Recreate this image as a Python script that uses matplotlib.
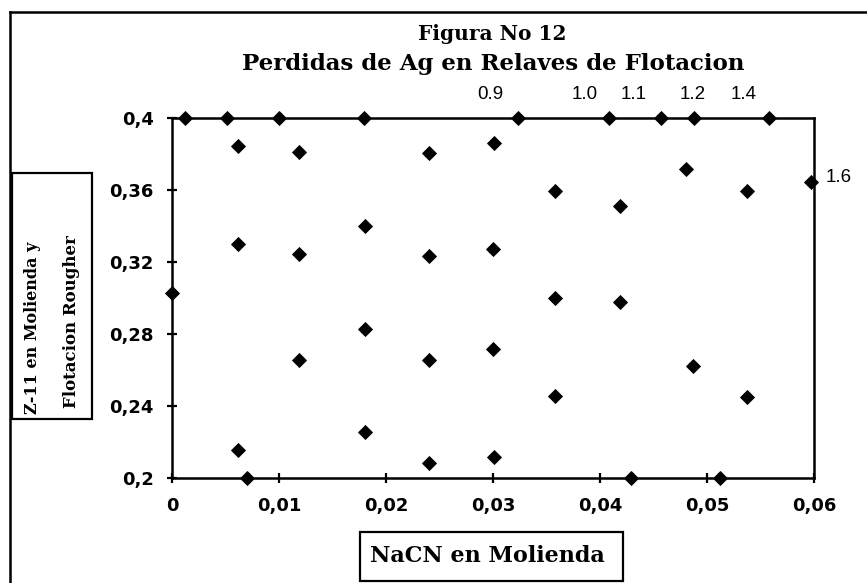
import matplotlib
matplotlib.use("Agg")
import matplotlib.pyplot as plt
from matplotlib.lines import Line2D
from matplotlib.patches import Rectangle
from matplotlib.ticker import FuncFormatter

# NaCN en molienda (x) vs Z-11 (y)
nacn = [0.0012, 0.0051, 0.0100, 0.0179, 0.0323, 0.0408, 0.0457, 0.0488, 0.0558,
        0.0061, 0.0061, 0.0000, 0.0061, 0.0070,
        0.0118, 0.0118, 0.0118,
        0.0180, 0.0180, 0.0180,
        0.0240, 0.0240, 0.0240, 0.0240,
        0.0301, 0.0300, 0.0300, 0.0301,
        0.0358, 0.0358, 0.0358,
        0.0419, 0.0419, 0.0429,
        0.0480, 0.0487, 0.0512,
        0.0537, 0.0537, 0.0597]
z11 = [0.400, 0.400, 0.400, 0.400, 0.400, 0.400, 0.400, 0.400, 0.400,
       0.3848, 0.3301, 0.3026, 0.2154, 0.2000,
       0.3814, 0.3243, 0.2655,
       0.3402, 0.2829, 0.2256,
       0.3805, 0.3234, 0.2655, 0.2083,
       0.3861, 0.3274, 0.2715, 0.2117,
       0.3595, 0.3002, 0.2452,
       0.3514, 0.2979, 0.2000,
       0.3718, 0.2622, 0.2000,
       0.3595, 0.2451, 0.3647]

# contour labels written near the top border (and one at the right)
level_labels = ["0.9", "1.0", "1.1", "1.2", "1.4"]
level_x = [0.0297, 0.0386, 0.0431, 0.0487, 0.0534]
label_16 = "1.6"

x_ticks = [0, 0.01, 0.02, 0.03, 0.04, 0.05, 0.06]
y_ticks = [0.2, 0.24, 0.28, 0.32, 0.36, 0.4]


def comma(v, pos):
    s = "{:g}".format(round(v, 4))
    return s.replace(".", ",")


W, H = 867, 583
fig = plt.figure(figsize=(W / 100, H / 100), dpi=100)
ax = fig.add_axes([172.3 / W, 1 - 477.7 / H, (814 - 172.3) / W, 359.4 / H])

ax.plot(nacn, z11, linestyle="none", marker="D", markersize=7.5,
        color="black", markeredgewidth=0.6, clip_on=False, zorder=5)

ax.set_xlim(0, 0.06)
ax.set_ylim(0.2, 0.4)
ax.set_xticks(x_ticks)
ax.set_yticks(y_ticks)
ax.xaxis.set_major_formatter(FuncFormatter(comma))
ax.yaxis.set_major_formatter(FuncFormatter(comma))
ax.tick_params(direction="inout", length=7, width=1.6, color="black")
ax.tick_params(axis="x", pad=10.5)
ax.tick_params(axis="y", pad=10)
for lab in ax.get_xticklabels() + ax.get_yticklabels():
    lab.set_fontfamily("DejaVu Sans")
    lab.set_fontweight("bold")
    lab.set_fontsize(13)
for sp in ax.spines.values():
    sp.set_linewidth(1.8)
    sp.set_color("black")

for txt, xv in zip(level_labels, level_x):
    ax.annotate(txt, (xv, 0.4), xytext=(0, 17), textcoords="offset points",
                ha="center", va="center", fontsize=13.5,
                fontfamily="Liberation Sans", color="black")
ax.annotate(label_16, (0.0597, 0.3647), xytext=(20, 3), textcoords="offset points",
            ha="center", va="center", fontsize=13.5,
            fontfamily="Liberation Sans", color="black")

# titles
fig.text(492 / W, 1 - 34 / H, "Figura No 12", ha="center", va="center",
         fontsize=14.5, fontweight="bold", fontfamily="DejaVu Serif")
fig.text(493 / W, 1 - 64 / H, "Perdidas de Ag en Relaves de Flotacion",
         ha="center", va="center", fontsize=16.5, fontweight="bold",
         fontfamily="DejaVu Serif")

# outer frame of the scanned page
fig.add_artist(Line2D([10 / W, 10 / W], [0, 1 - 12 / H], transform=fig.transFigure,
                      color="black", lw=1.8))
fig.add_artist(Line2D([10 / W, 1], [1 - 12 / H, 1 - 12 / H], transform=fig.transFigure,
                      color="black", lw=1.8))

# boxed y label
fig.add_artist(Rectangle((12.3 / W, 1 - 419 / H), (91.7 - 12.3) / W, (419 - 172.7) / H,
                         transform=fig.transFigure, fill=False, ec="black", lw=1.6))
fig.text(33 / W, 1 - 328 / H, "Z-11 en Molienda y", rotation=90, ha="center",
         va="center", fontsize=11.5, fontweight="bold", fontfamily="DejaVu Serif")
fig.text(71 / W, 1 - 322 / H, "Flotacion Rougher", rotation=90, ha="center",
         va="center", fontsize=12, fontweight="bold", fontfamily="DejaVu Serif")

# boxed x label
fig.add_artist(Rectangle((360 / W, 1 - 581 / H), (623 - 360) / W, (581 - 531.7) / H,
                         transform=fig.transFigure, fill=False, ec="black", lw=1.6))
fig.text(487 / W, 1 - 556 / H, "NaCN en Molienda", ha="center", va="center",
         fontsize=16, fontweight="bold", fontfamily="DejaVu Serif")

fig.savefig("out.png", dpi=100)
